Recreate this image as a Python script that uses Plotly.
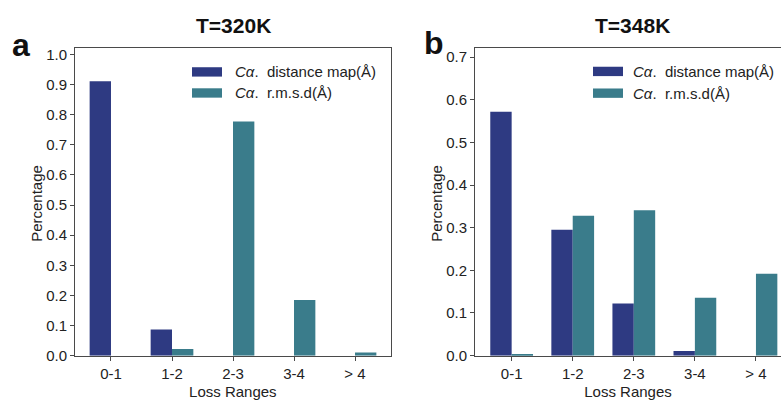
import plotly.graph_objects as go

# ---- data ----
categories = ["0-1", "1-2", "2-3", "3-4", "> 4"]
series_names = ["<i>Cα</i>.  distance map(Å)", "<i>Cα</i>.  r.m.s.d(Å)"]
t320_distance_map = [0.911, 0.087, 0.0, 0.0, 0.0]
t320_rmsd = [0.0, 0.022, 0.777, 0.185, 0.010]
t348_distance_map = [0.572, 0.295, 0.122, 0.011, 0.0]
t348_rmsd = [0.002, 0.328, 0.341, 0.136, 0.192]
panel_titles = ["T=320K", "T=348K"]
panel_letters = ["a", "b"]
yticks_left = [0.0, 0.1, 0.2, 0.3, 0.4, 0.5, 0.6, 0.7, 0.8, 0.9, 1.0]
yticks_right = [0.0, 0.1, 0.2, 0.3, 0.4, 0.5, 0.6, 0.7]

# ---- style ----
W, H = 781, 400
C_DARK = "#2e3a82"
C_TEAL = "#3a7c8b"
AX = "#4a4a4a"
FONT = "Liberation Sans, Arial, sans-serif"
FS = 15


def px(x):
    return x / W


def py(y):
    return 1 - y / H


fig = go.Figure()
x_idx = list(range(len(categories)))

for (d, r, xa, ya) in [(t320_distance_map, t320_rmsd, "x", "y"),
                       (t348_distance_map, t348_rmsd, "x2", "y2")]:
    fig.add_trace(go.Bar(x=x_idx, y=d, marker=dict(color=C_DARK, line=dict(width=0)),
                         xaxis=xa, yaxis=ya, showlegend=False, offsetgroup="a"))
    fig.add_trace(go.Bar(x=x_idx, y=r, marker=dict(color=C_TEAL, line=dict(width=0)),
                         xaxis=xa, yaxis=ya, showlegend=False, offsetgroup="b"))

ydom = [py(362.7), py(47.3)]
common_x = dict(tickmode="array", tickvals=x_idx, ticktext=categories,
                showline=True, linecolor=AX, linewidth=1, ticks="outside",
                ticklen=4, tickcolor=AX, showgrid=False, zeroline=False,
                tickfont=dict(family=FONT, size=FS, color="#222"),
                title=dict(text="Loss Ranges", font=dict(family=FONT, size=FS, color="#222"),
                           standoff=7))
common_y = dict(showline=True, linecolor=AX, linewidth=1, ticks="outside",
                ticklen=4, tickcolor=AX, showgrid=False, zeroline=False,
                tickfont=dict(family=FONT, size=FS, color="#222"), tickformat=".1f")

fig.update_layout(
    width=W, height=H,
    margin=dict(l=0, r=0, t=0, b=0),
    paper_bgcolor="white", plot_bgcolor="white",
    barmode="group", bargap=0.3, bargroupgap=0,
    xaxis=dict(domain=[px(75), px(390.7)], range=[-0.59, 4.585], anchor="y",
               mirror=True, **common_x),
    yaxis=dict(domain=ydom, range=[0, 1.021], anchor="x", mirror=True,
               tickvals=yticks_left, **common_y),
    xaxis2=dict(domain=[px(475), 1.0], range=[-0.60, 4.41], anchor="y2",
                mirror=True, **common_x),
    yaxis2=dict(domain=ydom, range=[0, 0.721], anchor="x2", mirror=False,
                tickvals=yticks_right, **common_y),
)

# titles, panel letters, y-axis titles
for title, letter, cx, lx, ly, yx in [(panel_titles[0], panel_letters[0], 233, 21, 44, 37),
                                      (panel_titles[1], panel_letters[1], 632, 434, 42, 437)]:
    fig.add_annotation(text="<b>%s</b>" % title, x=px(cx), y=py(24), xref="paper", yref="paper",
                       showarrow=False, xanchor="center", yanchor="middle",
                       font=dict(family=FONT, size=21, color="#111"))
    fig.add_annotation(text="<b>%s</b>" % letter, x=px(lx), y=py(ly), xref="paper", yref="paper",
                       showarrow=False, xanchor="center", yanchor="middle",
                       font=dict(family=FONT, size=32, color="#111"))
    fig.add_annotation(text="Percentage", x=px(yx), y=py(207), xref="paper", yref="paper",
                       showarrow=False, xanchor="center", yanchor="middle", textangle=-90,
                       font=dict(family=FONT, size=FS, color="#222"))

# legends (patches + labels)
for x0, x1, tx, rows in [(192, 222, 233, (71.7, 93.3)), (593, 623, 631, (71.2, 93.5))]:
    for name, col, ry in zip(series_names, [C_DARK, C_TEAL], rows):
        fig.add_shape(type="rect", xref="paper", yref="paper",
                      x0=px(x0), x1=px(x1), y0=py(ry + 4.8), y1=py(ry - 4.8),
                      fillcolor=col, line=dict(width=0))
        fig.add_annotation(text=name, x=px(tx), y=py(ry), xref="paper", yref="paper",
                           showarrow=False, xanchor="left", yanchor="middle",
                           font=dict(family=FONT, size=FS, color="#222"))

fig.write_html("out.html")
